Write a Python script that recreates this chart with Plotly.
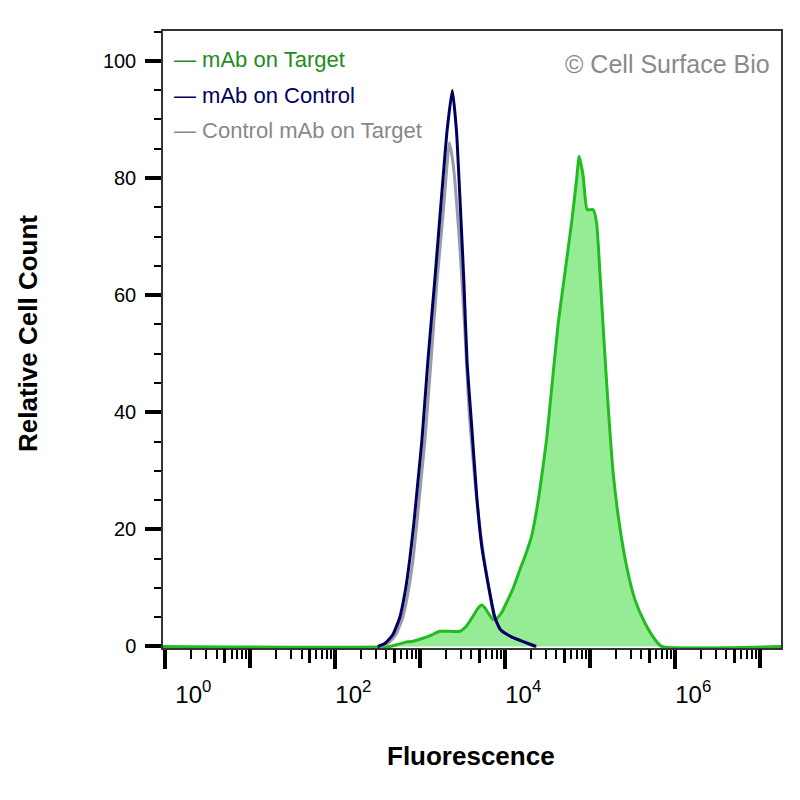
import plotly.graph_objects as go

# ---- data (x in log10 fluorescence units, y = relative cell count) ----
target_log = [-0.032, 2.641, 2.723, 2.818, 2.915, 3.030, 3.136, 3.230, 3.465, 3.544, 3.622, 3.677,
              3.721, 3.760, 3.798, 3.854, 3.901, 3.956, 4.015, 4.089, 4.172, 4.242, 4.309, 4.360,
              4.407, 4.486, 4.545, 4.623, 4.702, 4.780, 4.839, 4.870, 4.917, 4.964, 5.035, 5.075,
              5.114, 5.161, 5.211, 5.270, 5.341, 5.428, 5.526, 5.644, 5.761, 5.840, 7.245]
target_val = [0, 0, 0.3, 0.7, 0.9, 1.4, 2.0, 2.6, 2.6, 3.5, 5.2, 6.5,
              7.1, 6.6, 5.75, 4.6, 4.8, 5.75, 7.5, 9.8, 13.1, 15.8, 18.8, 22.5,
              26.8, 35.3, 43.9, 55.2, 63.8, 72.3, 79.7, 83.7, 80.3, 74.6, 74.6, 72.3,
              63.8, 52.4, 41.0, 29.6, 21.1, 13.7, 8.0, 4.0, 1.2, 0, 0]

control_log = [2.500, 2.582, 2.676, 2.759, 2.829, 2.877, 2.924, 2.971, 3.018, 3.088, 3.171, 3.250,
               3.316, 3.377, 3.426, 3.465, 3.512, 3.551, 3.603, 3.665, 3.724, 3.807, 3.877, 3.948,
               4.078, 4.219, 4.360]
control_val = [0, 0.5, 2.0, 5.0, 10.0, 15.0, 21.0, 28.0, 35.0, 48.5, 62.6, 76.8,
               88.2, 95.0, 88.0, 77.0, 62.6, 48.4, 38.0, 25.5, 17.0, 10.0, 5.0, 2.8,
               1.6, 0.8, 0]

isotype_log = [2.523, 2.617, 2.712, 2.794, 2.853, 2.912, 2.959, 3.006, 3.053, 3.124, 3.198, 3.269,
               3.316, 3.342, 3.371, 3.406, 3.465, 3.524, 3.575, 3.642, 3.712, 3.795, 3.866, 3.936,
               4.066, 4.219, 4.372]
isotype_val = [0, 0.5, 2.0, 5.0, 9.0, 14.5, 21.0, 28.0, 35.0, 48.4, 62.6, 74.0,
               82.5, 86.0, 84.0, 79.7, 68.3, 54.1, 40.0, 28.5, 19.0, 11.0, 5.2, 3.0,
               1.7, 0.8, 0]

series_names = ["mAb on Target", "mAb on Control", "Control mAb on Target"]
labelled_decades = [0, 2, 4, 6]
unlabelled_decades = [1, 3, 5, 7]
y_ticks = [0, 20, 40, 60, 80, 100]

FONT = "Arial, Liberation Sans, sans-serif"
GREEN_LINE = "#22bb22"
GREEN_FILL = "#95ec95"
GREEN_TEXT = "#1e8c1e"
NAVY = "#000060"
GRAY = "#9a9aa8"
GRAY_TEXT = "#888888"

def to_lin(vals):
    return [10 ** v for v in vals]

LINE_SHAPE = dict(shape="spline", smoothing=0.5)

fig = go.Figure()
fig.add_trace(go.Scatter(x=to_lin(target_log), y=target_val, mode="lines", fill="tozeroy",
                         fillcolor=GREEN_FILL, line=dict(color=GREEN_LINE, width=3, **LINE_SHAPE),
                         name=series_names[0], showlegend=False))
fig.add_trace(go.Scatter(x=to_lin(isotype_log), y=isotype_val, mode="lines",
                         line=dict(color=GRAY, width=3, **LINE_SHAPE),
                         name=series_names[2], showlegend=False))
fig.add_trace(go.Scatter(x=to_lin(control_log), y=control_val, mode="lines",
                         line=dict(color=NAVY, width=3, **LINE_SHAPE),
                         name=series_names[1], showlegend=False))
# invisible helpers so the secondary tick axes are drawn
for ax in ("x2", "x3"):
    fig.add_trace(go.Scatter(x=to_lin(target_log[:1]), y=target_val[:1], mode="markers",
                             marker=dict(opacity=0), xaxis=ax, hoverinfo="skip", showlegend=False))

LOG_MAX = 7.245
xrange = [-0.028, LOG_MAX]
tickvals = [10 ** d for d in labelled_decades]
ticktext = []
for d in labelled_decades:
    pre = "\u00a0\u00a0\u00a0" if d == 0 else ""
    ticktext.append(pre + "10<sup>%d</sup>" % d)
all_decades = sorted(labelled_decades + unlabelled_decades)
minor_vals = [k * 10 ** d for d in all_decades for k in (2, 3, 4, 6, 7, 8, 9) if k * 10 ** d < 10 ** LOG_MAX]
five_vals = [5 * 10 ** d for d in all_decades if 5 * 10 ** d < 10 ** LOG_MAX]
odd_vals = [10 ** d for d in unlabelled_decades]

tick_axis_common = dict(type="log", range=xrange, overlaying="x", anchor="y", side="bottom",
                        showgrid=False, zeroline=False, showline=False, showticklabels=False,
                        tickmode="array", ticks="outside", tickcolor="black")

fig.update_layout(
    width=800, height=800,
    margin=dict(l=163, r=19, t=31, b=152, pad=0),
    paper_bgcolor="white", plot_bgcolor="white",
    font=dict(family=FONT, color="black"),
    xaxis=dict(type="log", range=xrange, showgrid=False, zeroline=False,
               showline=True, linecolor="#333333", linewidth=1.5, mirror=True,
               tickmode="array", tickvals=tickvals, ticktext=ticktext,
               ticks="outside", ticklen=19, tickwidth=4, tickcolor="black",
               tickfont=dict(size=24, family=FONT, color="black"),
               ticklabelshift=18, ticklabelstandoff=5,
               minor=dict(tickmode="array", tickvals=minor_vals, ticks="outside",
                          ticklen=9, tickwidth=2, tickcolor="black", showgrid=False)),
    xaxis2=dict(tickvals=five_vals, ticklen=14, tickwidth=2.5, **tick_axis_common),
    xaxis3=dict(tickvals=odd_vals, ticklen=19, tickwidth=4, **tick_axis_common),
    yaxis=dict(range=[-0.26, 105.1], showgrid=False, zeroline=False,
               showline=True, linecolor="#333333", linewidth=1.5, mirror=True,
               tickmode="array", tickvals=y_ticks,
               ticks="outside", ticklen=16, tickwidth=4, tickcolor="black",
               tickfont=dict(size=20, family=FONT, color="black"),
               ticklabelstandoff=5,
               minor=dict(dtick=5, ticks="outside", ticklen=7, tickwidth=2,
                          tickcolor="black", showgrid=False)),
)

legend_items = [(series_names[0], GREEN_TEXT, 0.953),
                (series_names[1], NAVY, 0.8955),
                (series_names[2], GRAY_TEXT, 0.839)]
for name, col, yy in legend_items:
    fig.add_annotation(xref="paper", yref="paper", x=0.0141, y=yy, xanchor="left", yanchor="middle",
                       text="\u2014 " + name, showarrow=False,
                       font=dict(size=22, family=FONT, color=col))

fig.add_annotation(xref="paper", yref="paper", x=0.985, y=0.9465, xanchor="right", yanchor="middle",
                   text="\u00a9 Cell Surface Bio", showarrow=False,
                   font=dict(size=25, family=FONT, color="#8a8a8a"))

fig.add_annotation(xref="paper", yref="paper", x=0.498, y=-0.175, xanchor="center", yanchor="middle",
                   text="<b>Fluorescence</b>", showarrow=False,
                   font=dict(size=26, family=FONT, color="black"))
fig.add_annotation(xref="paper", yref="paper", x=-0.2184, y=0.509, xanchor="center", yanchor="middle",
                   text="<b>Relative Cell Count</b>", showarrow=False, textangle=-90,
                   font=dict(size=26, family=FONT, color="black"))

fig.write_html("out.html", config={"displayModeBar": False},
               post_script="document.body.style.margin='0';")
